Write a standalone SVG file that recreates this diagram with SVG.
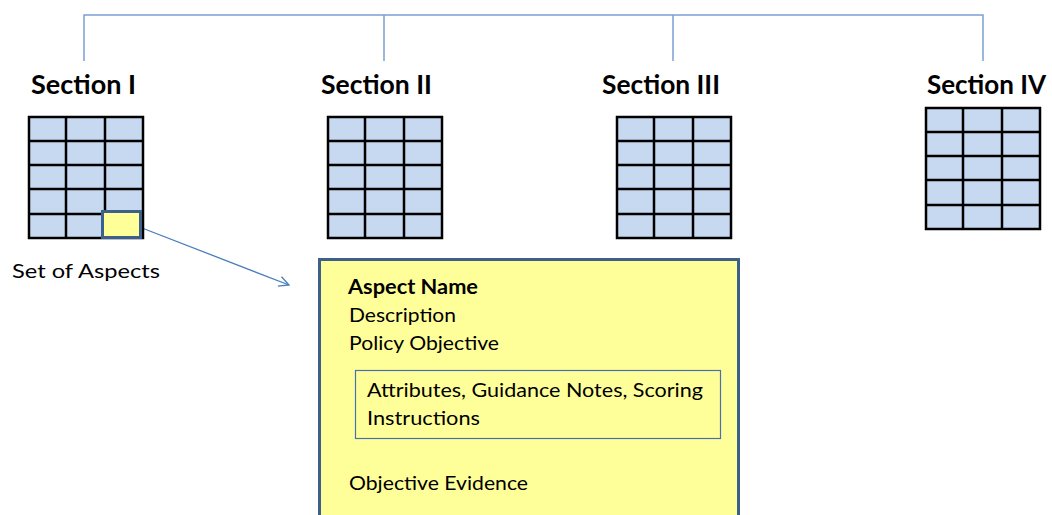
<svg xmlns="http://www.w3.org/2000/svg" width="1052" height="515" viewBox="0 0 1052 515">
  <style>
    .head { font-family: Lato, "Open Sans", sans-serif; font-weight: bold; font-size: 27px; fill: #000; }
    .body { font-family: Lato, "Open Sans", sans-serif; font-size: 20px; fill: #000; }
    .bold { font-weight: bold; }
    .tree { fill: none; stroke: #7ba0d4; stroke-width: 1.5; }
    .link { fill: none; stroke: #4a7ebb; stroke-width: 1.3; }
    .cellfill { fill: #c6d9f1; }
    .gridline { stroke: #000; stroke-width: 2.5; fill: none; }
    .aspect { fill: #ffff99; stroke: #3d5f8c; stroke-width: 3; }
    .inner { fill: #ffff99; stroke: #4a6fb0; stroke-width: 1.2; }
  </style>
  <defs>
    <!-- 3 x 5 aspect grid, 114 x 121 -->
    <g id="grid">
      <rect class="cellfill" x="0" y="0" width="114" height="121"/>
      <path class="gridline" d="M0,0 H114 V121 H0 Z M37,0 V121 M76,0 V121 M0,24 H114 M0,48 H114 M0,72 H114 M0,97 H114"/>
    </g>
    <marker id="open-arrow" viewBox="0 0 12 12" refX="11" refY="6" markerWidth="12" markerHeight="12" markerUnits="userSpaceOnUse" orient="auto">
      <path d="M1,1 L11,6 L1,11" fill="none" stroke="#4a7ebb" stroke-width="1.3"/>
    </marker>
  </defs>

  <!-- connectors -->
  <g id="connectors">
    <path class="tree" d="M84,61 V15 H983 V61 M384,15 V61 M673,15 V61"/>
    <path class="link" d="M142,228 L289,285" marker-end="url(#open-arrow)"/>
  </g>

  <g id="section-1">
    <text class="head" x="31" y="94" textLength="105" lengthAdjust="spacingAndGlyphs">Section I</text>
    <use href="#grid" x="29" y="117"/>
    <rect class="aspect" x="102.5" y="211.5" width="38" height="26"/>
    <text class="body" x="12" y="278" textLength="148" lengthAdjust="spacingAndGlyphs">Set of Aspects</text>
  </g>

  <g id="section-2">
    <text class="head" x="321" y="94" textLength="111" lengthAdjust="spacingAndGlyphs">Section II</text>
    <use href="#grid" x="328" y="117"/>
  </g>

  <g id="section-3">
    <text class="head" x="602" y="94" textLength="118" lengthAdjust="spacingAndGlyphs">Section III</text>
    <use href="#grid" x="617" y="117"/>
  </g>

  <g id="section-4">
    <text class="head" x="927" y="94" textLength="119" lengthAdjust="spacingAndGlyphs">Section IV</text>
    <use href="#grid" x="926" y="108"/>
  </g>

  <g id="aspect-detail">
    <rect class="aspect" x="319.5" y="259.5" width="419" height="275"/>
    <text class="body bold" x="348" y="294" textLength="130" lengthAdjust="spacingAndGlyphs">Aspect Name</text>
    <text class="body" x="349" y="322" textLength="107" lengthAdjust="spacingAndGlyphs">Description</text>
    <text class="body" x="349" y="350" textLength="150" lengthAdjust="spacingAndGlyphs">Policy Objective</text>
    <rect class="inner" x="355.5" y="370.5" width="365" height="68"/>
    <text class="body" x="367" y="397" textLength="336" lengthAdjust="spacingAndGlyphs">Attributes, Guidance Notes, Scoring</text>
    <text class="body" x="367" y="425" textLength="113" lengthAdjust="spacingAndGlyphs">Instructions</text>
    <text class="body" x="349" y="490" textLength="179" lengthAdjust="spacingAndGlyphs">Objective Evidence</text>
  </g>
</svg>
